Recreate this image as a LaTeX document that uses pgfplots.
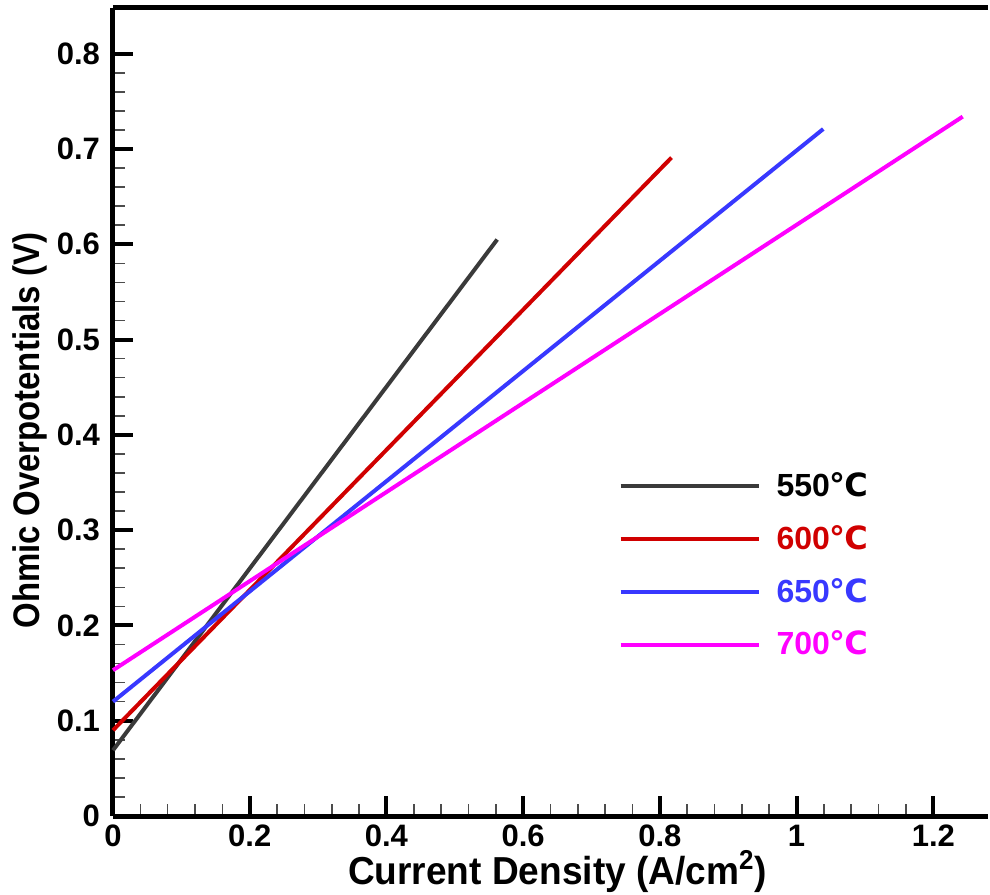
\documentclass[border=0pt]{standalone}
\usepackage{pgfplots}
\pgfplotsset{compat=1.18}
\usepackage{fontspec}
\setmainfont{Liberation Sans}
\newfontfamily\dejavu{DejaVu Sans}
\newcommand{\degC}{{\dejavu\bfseries ℃}}
\definecolor{c550}{HTML}{3A3A3A}
\definecolor{c600}{HTML}{D00000}
\definecolor{c650}{HTML}{3838FF}
\definecolor{c700}{HTML}{FF00FF}

\begin{document}
\begin{tikzpicture}[font=\bfseries]
\begin{axis}[
  scale only axis,
  width=437.5pt, height=404pt,
  xmin=0, xmax=1.28, ymin=0, ymax=0.848,
  axis x line*=bottom, axis y line*=left,
  axis line style={line width=2.5pt, -},
  xtick={0,0.2,...,1.2}, ytick={0,0.1,...,0.8},
  minor x tick num=4, minor y tick num=4,
  tick align=inside,
  major tick length=10pt, minor tick length=6pt,
  major tick style={line width=2pt, black},
  minor tick style={line width=0.8pt, black!70},
  tick label style={font=\fontsize{15.5}{18}\selectfont\bfseries},
  /pgf/number format/assume math mode=true,
  xticklabel style={yshift=-1pt},
  yticklabel style={xshift=-3pt},
  xlabel={\scalebox{0.95}[1]{Current Density (A/cm$^{\mathbf{2}}$)}},
  ylabel={\scalebox{0.89}[1]{Ohmic Overpotentials (V)}},
  xlabel style={font=\fontsize{19.5}{22}\selectfont\bfseries, yshift=5pt, xshift=3.5pt},
  ylabel style={font=\fontsize{18.5}{22}\selectfont\bfseries, at={(ticklabel cs:0.477)}, yshift=-2pt},
  clip=false,
  legend cell align=left,
  legend style={draw=none, fill=none, at={(0.5705,0.436)}, anchor=north west,
    font=\fontsize{16}{19}\selectfont\bfseries, row sep=9pt},
  legend image code/.code={\draw[#1, line width=2pt] (0pt,0pt) -- (69pt,0pt);
    \path (75pt,0pt);},
]
\draw[line width=2.5pt] (rel axis cs:0,1) -- (rel axis cs:1,1);
\addplot[c550, line width=2pt] coordinates {(0,0.069) (0.562,0.605)};
\addplot[c600, line width=2pt] coordinates {(0,0.090) (0.817,0.691)};
\addplot[c650, line width=2pt] coordinates {(0,0.120) (1.039,0.721)};
\addplot[c700, line width=2pt] coordinates {(0,0.153) (1.243,0.734)};
\legend{\textcolor{black}{550\degC},\textcolor{c600}{600\degC},\textcolor{c650}{650\degC},\textcolor{c700}{700\degC}}
\coordinate (bl) at ([xshift=-56.5pt,yshift=-39pt]rel axis cs:0,0);
\coordinate (tr) at ([xshift=1pt,yshift=4pt]rel axis cs:1,1);
\end{axis}
\pgfresetboundingbox
\path[use as bounding box] (bl) rectangle (tr);
\end{tikzpicture}
\end{document}
